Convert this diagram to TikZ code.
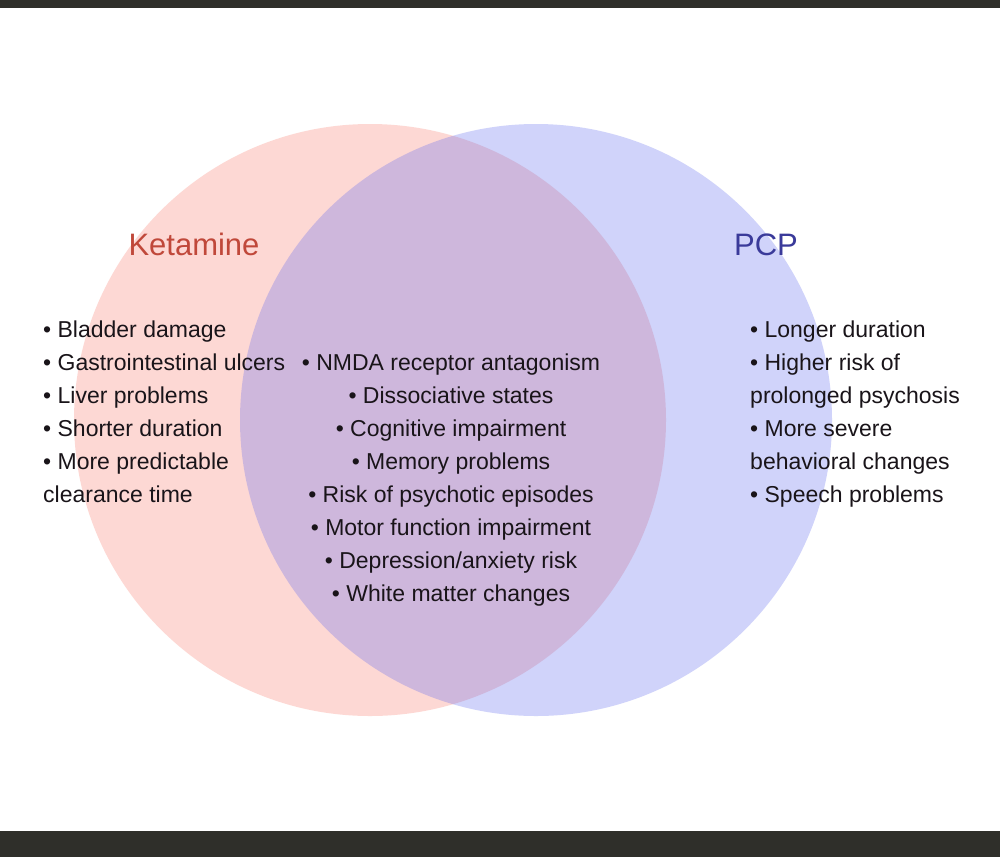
\documentclass[tikz,border=0pt]{standalone}
\usepackage{fontspec}
\setmainfont{Liberation Sans}
\definecolor{barcol}{RGB}{47,47,42}
\definecolor{ketfill}{RGB}{250,128,114}
\definecolor{pcpfill}{RGB}{100,110,240}
\definecolor{kettext}{RGB}{192,72,58}
\definecolor{pcptext}{RGB}{58,58,154}
\definecolor{txt}{RGB}{25,20,25}
\begin{document}
\begin{tikzpicture}[x=1pt,y=-1pt,
  item/.style={inner sep=0pt,text=txt,font=\fontsize{23}{27}\selectfont},
  leftitem/.style={item,anchor=base west},
  miditem/.style={item,anchor=base},
  title/.style={inner sep=0pt,anchor=base,font=\fontsize{31}{34}\selectfont}]
\useasboundingbox (0,0) rectangle (1000,857);
\fill[white] (0,0) rectangle (1000,857);
\fill[barcol] (0,0) rectangle (1000,8);
\fill[barcol] (0,831) rectangle (1000,857);
% circles
\fill[ketfill,fill opacity=0.3] (370,420) circle[radius=296];
\fill[pcpfill,fill opacity=0.3] (536,420) circle[radius=296];
% titles
\node[title,text=kettext] (ket) at (194,255) {Ketamine};
\node[title,text=pcptext] (pcp) at (766,255) {PCP};
% left list
\foreach \t [count=\i from 0] in {{• Bladder damage},{• Gastrointestinal ulcers},{• Liver problems},{• Shorter duration},{• More predictable},{clearance time}}
  \node[leftitem] (L\i) at (43,{337+33*\i}) {\t};
% middle list
\foreach \t [count=\i from 0] in {{• NMDA receptor antagonism},{• Dissociative states},{• Cognitive impairment},{• Memory problems},{• Risk of psychotic episodes},{• Motor function impairment},{• Depression/anxiety risk},{• White matter changes}}
  \node[miditem] (M\i) at (451,{370+33*\i}) {\t};
% right list
\foreach \t [count=\i from 0] in {{• Longer duration},{• Higher risk of},{prolonged psychosis},{• More severe},{behavioral changes},{• Speech problems}}
  \node[leftitem] (R\i) at (750,{337+33*\i}) {\t};
\end{tikzpicture}
\end{document}
